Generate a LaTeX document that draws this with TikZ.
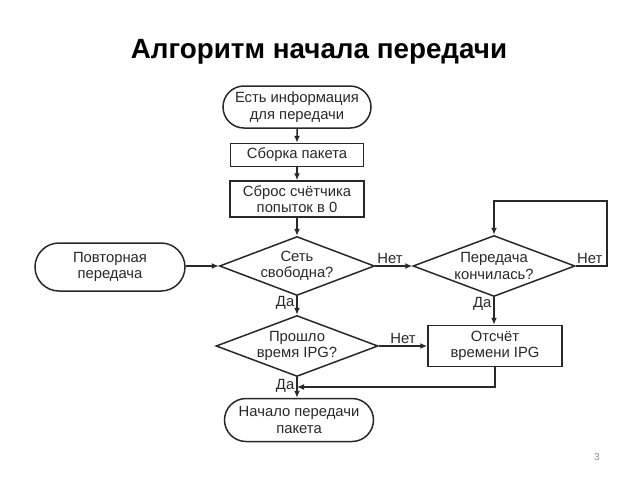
\documentclass[tikz,border=0pt]{standalone}
\usepackage{fontspec}
\setmainfont{Liberation Sans}
\usetikzlibrary{shapes.geometric,shapes.misc,arrows.meta}
\definecolor{pgnum}{RGB}{140,140,140}
\definecolor{ink}{RGB}{40,40,40}
\begin{document}
\begin{tikzpicture}[x=1pt,y=-1pt,
  every node/.style={font=\fontsize{14.8}{16.5}\selectfont, align=center, text=ink},
  term/.style={draw=ink, rounded rectangle, line width=1.5pt, inner sep=0pt},
  procbox/.style={draw=ink, rectangle, line width=1.5pt, inner sep=0pt},
  dia/.style={draw=ink, diamond, line width=1.5pt, inner sep=0pt},
  conn/.style={draw=ink, line width=1.5pt, -{Latex[length=7pt,width=6pt]}},
  lbl/.style={inner sep=2pt}
]
\useasboundingbox (0,0) rectangle (640,480);
\node[font=\fontsize{27.8}{32}\selectfont\bfseries, text=black] (title) at (319,52) {Алгоритм начала передачи};
\node[font=\fontsize{10}{12}\selectfont, text=pgnum] (pg) at (597,457) {3};

\node[term, minimum width=148pt, minimum height=42pt] (t1) at (297,107) {Есть информация\\для передачи};
\node[procbox, minimum width=133pt, minimum height=23pt] (b1) at (297,155) {Сборка пакета};
\node[procbox, minimum width=134pt, minimum height=36pt] (b2) at (297,199) {Сброс счётчика\\попыток в 0};
\node[dia, minimum width=155pt, minimum height=59pt] (d1) at (297,266) {};
\node (d1t) at (d1) {Сеть\\свободна?};
\node[term, minimum width=150pt, minimum height=48pt] (t2) at (110,267) {Повторная\\передача};
\node[dia, minimum width=162pt, minimum height=61pt] (d2) at (494,266) {};
\node (d2t) at (d2) {Передача\\кончилась?};
\node[dia, minimum width=162pt, minimum height=61pt] (d3) at (297,346) {};
\node (d3t) at (d3) {Прошло\\время IPG?};
\node[procbox, minimum width=134pt, minimum height=41pt] (b3) at (495,346) {Отсчёт\\времени IPG};
\node[term, minimum width=149pt, minimum height=43pt] (t3) at (299,420) {Начало передачи\\пакета};

\coordinate (lr) at (607,266);
\coordinate (lt) at (607,201);
\coordinate (jn) at (297,387);

\draw[conn] (t1) -- (b1);
\draw[conn] (b1) -- (b2);
\draw[conn] (b2) -- (d1);
\draw[conn] (t2.east |- d1.west) -- (d1.west);
\draw[conn] (d1.east) -- node[lbl, above, pos=0.4] {Нет} (d2.west);
\draw[conn] (d1.south) -- node[lbl, left, pos=0.35] {Да} (d3.north);
\draw[conn] (d2.south) -- node[lbl, left, pos=0.25] {Да} (d2.south |- b3.north);
\draw[conn] (d2.east) -- node[lbl, above, pos=0.45] {Нет} (lr) -- (lt) -- (lt -| d2.north) -- (d2.north);
\draw[conn] (d3.east) -- node[lbl, above] {Нет} (b3.west);
\draw[conn] (d3.south) -- node[lbl, left, pos=0.4] {Да} (d3.south |- t3.north);
\draw[conn] (b3.south) -- (b3.south |- jn) -- (jn);
\end{tikzpicture}
\end{document}
